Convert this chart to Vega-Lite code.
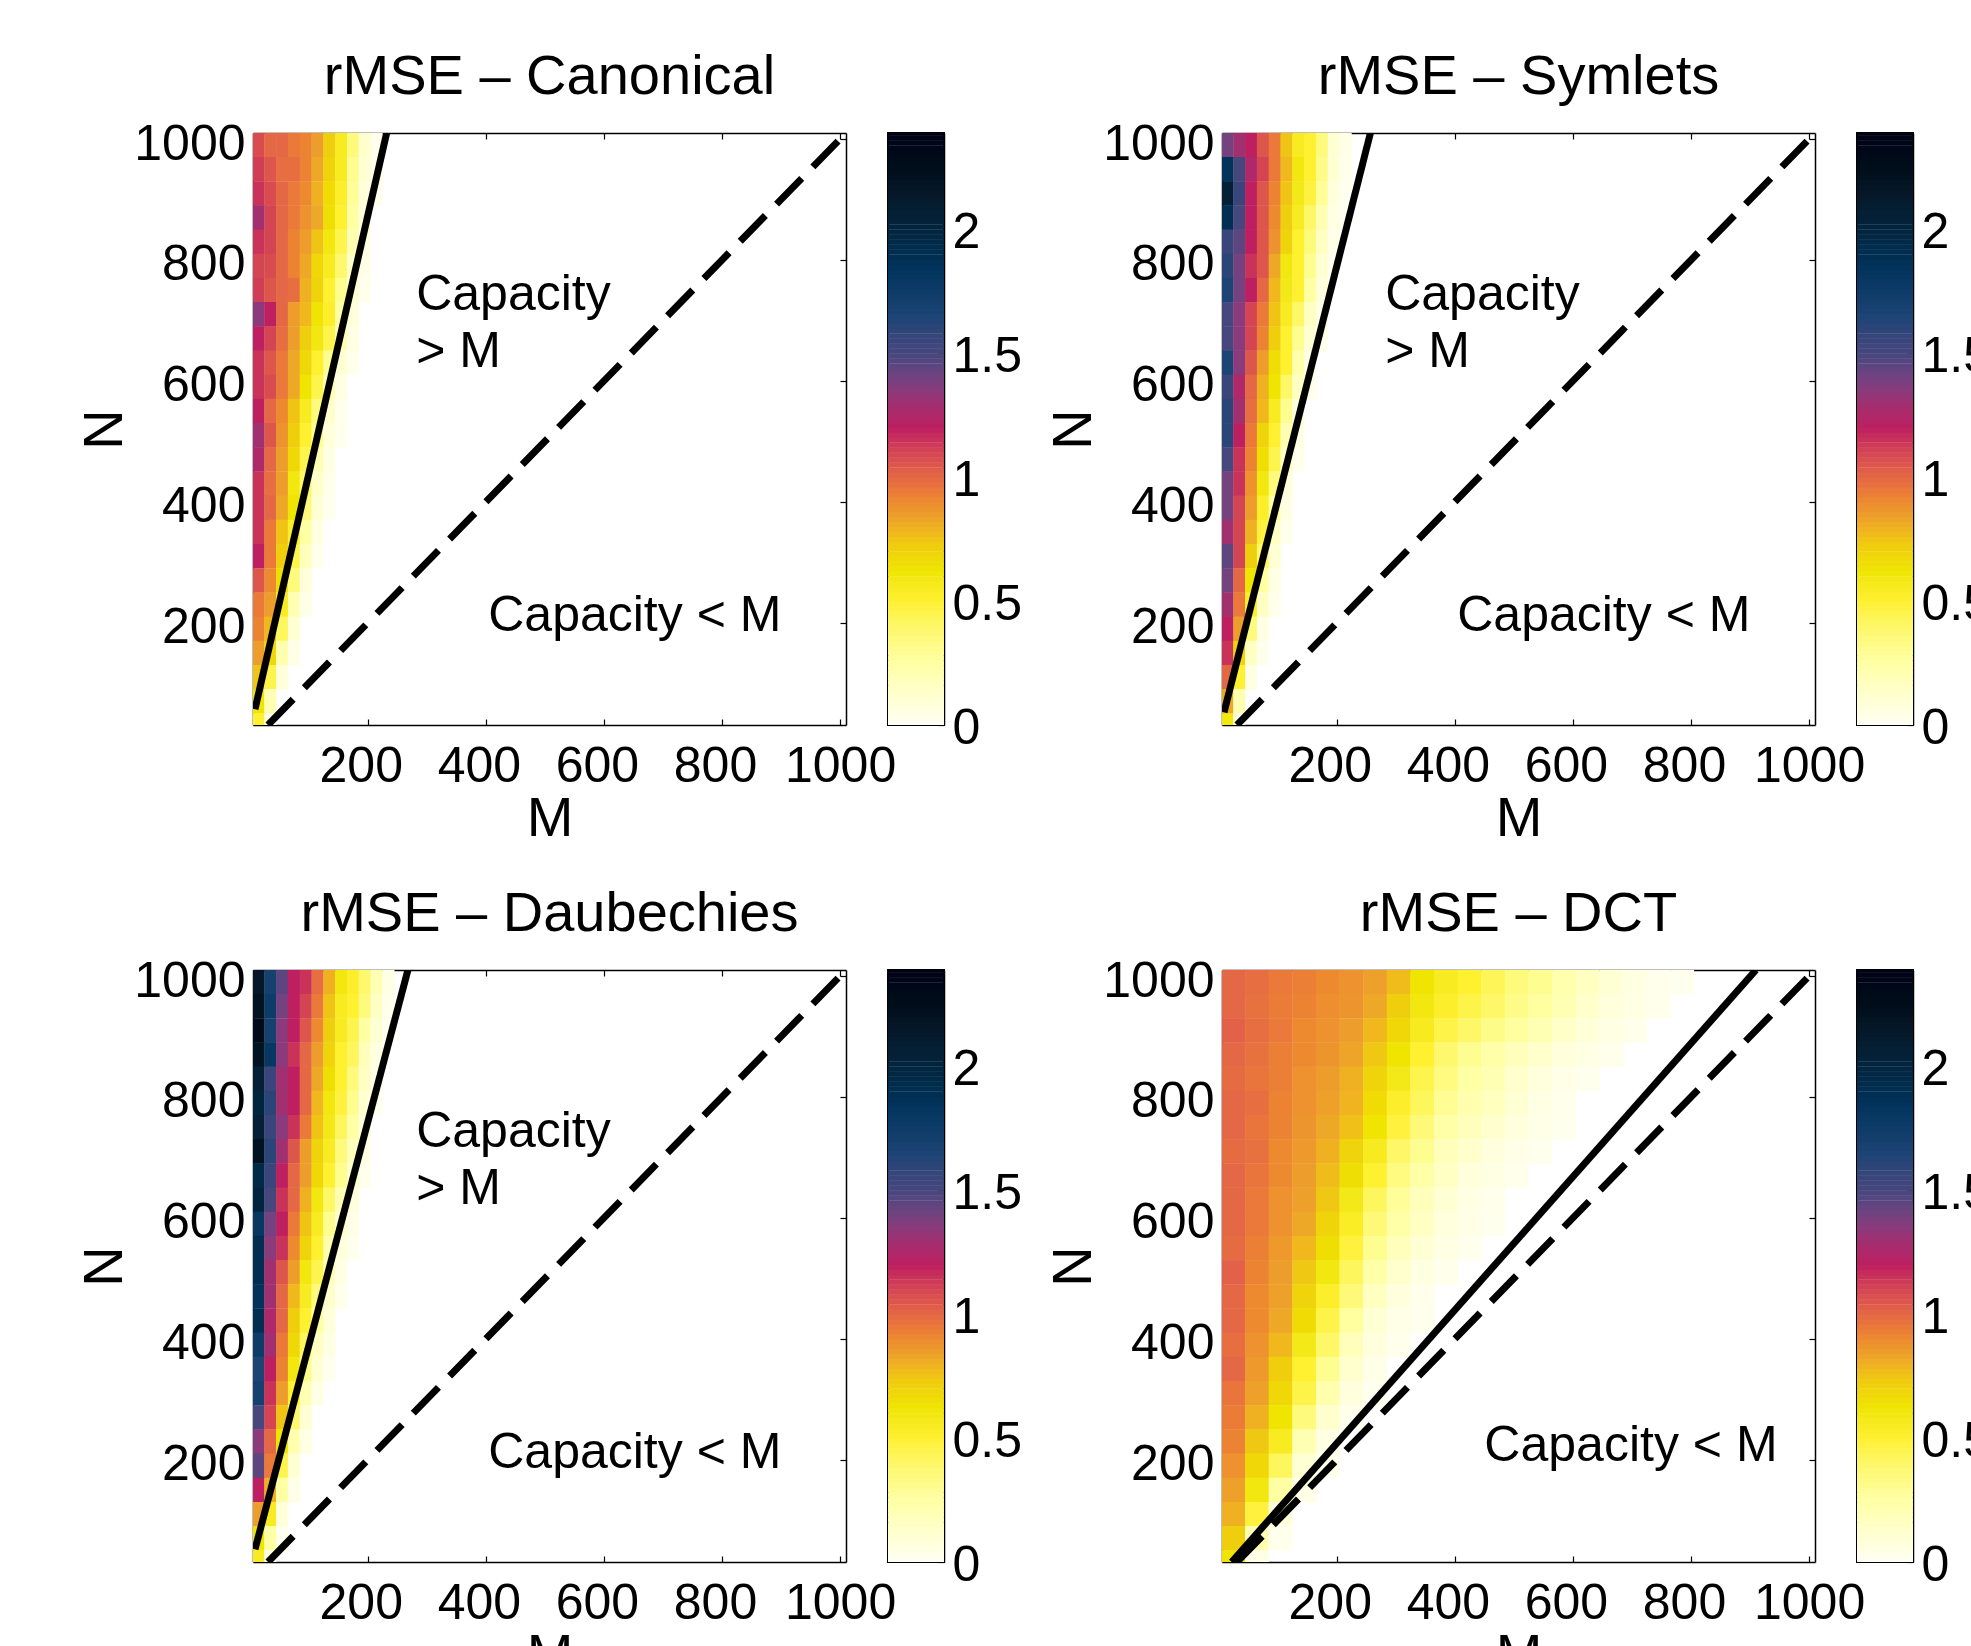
{"$schema":"https://vega.github.io/schema/vega-lite/v6.json","background":"white","padding":{"left":76,"top":49,"right":0,"bottom":0},
"config":{"view":{"stroke":null},"axis":{"grid":false,"domainColor":"black","domainWidth":1.5,"tickColor":"black","tickWidth":1.2,"tickSize":-6,"labelFont":"Liberation Sans","labelFontSize":50,"labelColor":"black","titleFont":"Liberation Sans","titleFontSize":56,"titleFontWeight":"normal","titleColor":"black","zindex":1,"labelBound":false,"labelFlush":false,"labelOverlap":false},"title":{"font":"Liberation Sans","fontSize":56,"fontWeight":"normal","color":"black","offset":13},"text":{"font":"Liberation Sans"}},
"datasets":{
"equal":[{"M":31,"N":31},{"M":1010,"N":1010}],
"canonical":[
{"M":15,"N":990,"v":1.08},{"M":35,"N":990,"v":1.0},{"M":55,"N":990,"v":1.0},{"M":75,"N":990,"v":0.95},{"M":95,"N":990,"v":0.92},{"M":115,"N":990,"v":0.85},{"M":135,"N":990,"v":0.72},{"M":155,"N":990,"v":0.55},{"M":175,"N":990,"v":0.35},{"M":195,"N":990,"v":0.12},{"M":215,"N":990,"v":0.03},
{"M":15,"N":950,"v":1.12},{"M":35,"N":950,"v":1.05},{"M":55,"N":950,"v":0.98},{"M":75,"N":950,"v":0.98},{"M":95,"N":950,"v":0.92},{"M":115,"N":950,"v":0.82},{"M":135,"N":950,"v":0.7},{"M":155,"N":950,"v":0.55},{"M":175,"N":950,"v":0.3},{"M":195,"N":950,"v":0.1},{"M":215,"N":950,"v":0.03},
{"M":15,"N":910,"v":1.15},{"M":35,"N":910,"v":1.08},{"M":55,"N":910,"v":1.0},{"M":75,"N":910,"v":0.95},{"M":95,"N":910,"v":0.9},{"M":115,"N":910,"v":0.8},{"M":135,"N":910,"v":0.66},{"M":155,"N":910,"v":0.52},{"M":175,"N":910,"v":0.28},{"M":195,"N":910,"v":0.08},{"M":215,"N":910,"v":0.02},
{"M":15,"N":870,"v":1.3},{"M":35,"N":870,"v":1.1},{"M":55,"N":870,"v":1.0},{"M":75,"N":870,"v":0.95},{"M":95,"N":870,"v":0.88},{"M":115,"N":870,"v":0.82},{"M":135,"N":870,"v":0.65},{"M":155,"N":870,"v":0.5},{"M":175,"N":870,"v":0.25},{"M":195,"N":870,"v":0.07},
{"M":15,"N":830,"v":1.15},{"M":35,"N":830,"v":1.1},{"M":55,"N":830,"v":1.0},{"M":75,"N":830,"v":0.92},{"M":95,"N":830,"v":0.85},{"M":115,"N":830,"v":0.75},{"M":135,"N":830,"v":0.6},{"M":155,"N":830,"v":0.45},{"M":175,"N":830,"v":0.2},{"M":195,"N":830,"v":0.05},
{"M":15,"N":790,"v":1.1},{"M":35,"N":790,"v":1.08},{"M":55,"N":790,"v":1.0},{"M":75,"N":790,"v":0.92},{"M":95,"N":790,"v":0.82},{"M":115,"N":790,"v":0.68},{"M":135,"N":790,"v":0.55},{"M":155,"N":790,"v":0.38},{"M":175,"N":790,"v":0.14},{"M":195,"N":790,"v":0.04},
{"M":15,"N":750,"v":1.12},{"M":35,"N":750,"v":1.05},{"M":55,"N":750,"v":1.0},{"M":75,"N":750,"v":0.98},{"M":95,"N":750,"v":0.8},{"M":115,"N":750,"v":0.7},{"M":135,"N":750,"v":0.5},{"M":155,"N":750,"v":0.3},{"M":175,"N":750,"v":0.1},{"M":195,"N":750,"v":0.03},
{"M":15,"N":710,"v":1.35},{"M":35,"N":710,"v":1.2},{"M":55,"N":710,"v":1.0},{"M":75,"N":710,"v":0.85},{"M":95,"N":710,"v":0.78},{"M":115,"N":710,"v":0.62},{"M":135,"N":710,"v":0.52},{"M":155,"N":710,"v":0.25},{"M":175,"N":710,"v":0.07},
{"M":15,"N":670,"v":1.2},{"M":35,"N":670,"v":1.1},{"M":55,"N":670,"v":0.98},{"M":75,"N":670,"v":0.85},{"M":95,"N":670,"v":0.72},{"M":115,"N":670,"v":0.6},{"M":135,"N":670,"v":0.45},{"M":155,"N":670,"v":0.2},{"M":175,"N":670,"v":0.05},
{"M":15,"N":630,"v":1.15},{"M":35,"N":630,"v":1.05},{"M":55,"N":630,"v":0.95},{"M":75,"N":630,"v":0.82},{"M":95,"N":630,"v":0.68},{"M":115,"N":630,"v":0.5},{"M":135,"N":630,"v":0.3},{"M":155,"N":630,"v":0.1},{"M":175,"N":630,"v":0.03},
{"M":15,"N":590,"v":1.15},{"M":35,"N":590,"v":1.08},{"M":55,"N":590,"v":0.95},{"M":75,"N":590,"v":0.82},{"M":95,"N":590,"v":0.62},{"M":115,"N":590,"v":0.45},{"M":135,"N":590,"v":0.2},{"M":155,"N":590,"v":0.05},
{"M":15,"N":550,"v":1.2},{"M":35,"N":550,"v":1.0},{"M":55,"N":550,"v":0.9},{"M":75,"N":550,"v":0.75},{"M":95,"N":550,"v":0.55},{"M":115,"N":550,"v":0.35},{"M":135,"N":550,"v":0.12},{"M":155,"N":550,"v":0.03},
{"M":15,"N":510,"v":1.3},{"M":35,"N":510,"v":1.05},{"M":55,"N":510,"v":0.88},{"M":75,"N":510,"v":0.72},{"M":95,"N":510,"v":0.5},{"M":115,"N":510,"v":0.3},{"M":135,"N":510,"v":0.08},{"M":155,"N":510,"v":0.02},
{"M":15,"N":470,"v":1.25},{"M":35,"N":470,"v":1.0},{"M":55,"N":470,"v":0.85},{"M":75,"N":470,"v":0.68},{"M":95,"N":470,"v":0.45},{"M":115,"N":470,"v":0.2},{"M":135,"N":470,"v":0.05},
{"M":15,"N":430,"v":1.15},{"M":35,"N":430,"v":0.98},{"M":55,"N":430,"v":0.85},{"M":75,"N":430,"v":0.6},{"M":95,"N":430,"v":0.4},{"M":115,"N":430,"v":0.14},{"M":135,"N":430,"v":0.03},
{"M":15,"N":390,"v":1.15},{"M":35,"N":390,"v":1.0},{"M":55,"N":390,"v":0.82},{"M":75,"N":390,"v":0.62},{"M":95,"N":390,"v":0.36},{"M":115,"N":390,"v":0.1},{"M":135,"N":390,"v":0.02},
{"M":15,"N":350,"v":1.15},{"M":35,"N":350,"v":0.95},{"M":55,"N":350,"v":0.75},{"M":75,"N":350,"v":0.52},{"M":95,"N":350,"v":0.25},{"M":115,"N":350,"v":0.06},
{"M":15,"N":310,"v":1.2},{"M":35,"N":310,"v":0.95},{"M":55,"N":310,"v":0.72},{"M":75,"N":310,"v":0.45},{"M":95,"N":310,"v":0.18},{"M":115,"N":310,"v":0.03},
{"M":15,"N":270,"v":1.05},{"M":35,"N":270,"v":0.9},{"M":55,"N":270,"v":0.65},{"M":75,"N":270,"v":0.35},{"M":95,"N":270,"v":0.08},
{"M":15,"N":230,"v":0.95},{"M":35,"N":230,"v":0.85},{"M":55,"N":230,"v":0.55},{"M":75,"N":230,"v":0.2},{"M":95,"N":230,"v":0.04},
{"M":15,"N":190,"v":0.92},{"M":35,"N":190,"v":0.78},{"M":55,"N":190,"v":0.42},{"M":75,"N":190,"v":0.1},
{"M":15,"N":150,"v":0.85},{"M":35,"N":150,"v":0.68},{"M":55,"N":150,"v":0.22},{"M":75,"N":150,"v":0.04},
{"M":15,"N":110,"v":0.75},{"M":35,"N":110,"v":0.45},{"M":55,"N":110,"v":0.08},
{"M":15,"N":70,"v":0.62},{"M":35,"N":70,"v":0.2},
{"M":15,"N":30,"v":0.5},{"M":35,"N":30,"v":0.05}],
"symlets":[
{"M":15,"N":990,"v":1.4},{"M":35,"N":990,"v":1.3},{"M":55,"N":990,"v":1.2},{"M":75,"N":990,"v":1.05},{"M":95,"N":990,"v":0.95},{"M":115,"N":990,"v":0.75},{"M":135,"N":990,"v":0.55},{"M":155,"N":990,"v":0.5},{"M":175,"N":990,"v":0.35},{"M":195,"N":990,"v":0.1},{"M":215,"N":990,"v":0.04},
{"M":15,"N":950,"v":1.85},{"M":35,"N":950,"v":1.5},{"M":55,"N":950,"v":1.25},{"M":75,"N":950,"v":1.1},{"M":95,"N":950,"v":0.95},{"M":115,"N":950,"v":0.78},{"M":135,"N":950,"v":0.6},{"M":155,"N":950,"v":0.5},{"M":175,"N":950,"v":0.32},{"M":195,"N":950,"v":0.1},{"M":215,"N":950,"v":0.03},
{"M":15,"N":910,"v":2.05},{"M":35,"N":910,"v":1.55},{"M":55,"N":910,"v":1.2},{"M":75,"N":910,"v":1.05},{"M":95,"N":910,"v":0.92},{"M":115,"N":910,"v":0.75},{"M":135,"N":910,"v":0.58},{"M":155,"N":910,"v":0.48},{"M":175,"N":910,"v":0.28},{"M":195,"N":910,"v":0.07},{"M":215,"N":910,"v":0.02},
{"M":15,"N":870,"v":1.9},{"M":35,"N":870,"v":1.5},{"M":55,"N":870,"v":1.2},{"M":75,"N":870,"v":1.05},{"M":95,"N":870,"v":0.9},{"M":115,"N":870,"v":0.72},{"M":135,"N":870,"v":0.55},{"M":155,"N":870,"v":0.4},{"M":175,"N":870,"v":0.2},{"M":195,"N":870,"v":0.05},{"M":215,"N":870,"v":0.02},
{"M":15,"N":830,"v":1.55},{"M":35,"N":830,"v":1.45},{"M":55,"N":830,"v":1.2},{"M":75,"N":830,"v":1.05},{"M":95,"N":830,"v":0.88},{"M":115,"N":830,"v":0.7},{"M":135,"N":830,"v":0.5},{"M":155,"N":830,"v":0.35},{"M":175,"N":830,"v":0.15},{"M":195,"N":830,"v":0.04},
{"M":15,"N":790,"v":1.6},{"M":35,"N":790,"v":1.4},{"M":55,"N":790,"v":1.15},{"M":75,"N":790,"v":1.05},{"M":95,"N":790,"v":0.82},{"M":115,"N":790,"v":0.6},{"M":135,"N":790,"v":0.5},{"M":155,"N":790,"v":0.3},{"M":175,"N":790,"v":0.1},{"M":195,"N":790,"v":0.02},
{"M":15,"N":750,"v":1.65},{"M":35,"N":750,"v":1.4},{"M":55,"N":750,"v":1.2},{"M":75,"N":750,"v":1.0},{"M":95,"N":750,"v":0.78},{"M":115,"N":750,"v":0.58},{"M":135,"N":750,"v":0.5},{"M":155,"N":750,"v":0.25},{"M":175,"N":750,"v":0.07},
{"M":15,"N":710,"v":1.5},{"M":35,"N":710,"v":1.35},{"M":55,"N":710,"v":1.1},{"M":75,"N":710,"v":0.95},{"M":95,"N":710,"v":0.75},{"M":115,"N":710,"v":0.55},{"M":135,"N":710,"v":0.4},{"M":155,"N":710,"v":0.15},{"M":175,"N":710,"v":0.04},
{"M":15,"N":670,"v":1.5},{"M":35,"N":670,"v":1.35},{"M":55,"N":670,"v":1.1},{"M":75,"N":670,"v":0.92},{"M":95,"N":670,"v":0.72},{"M":115,"N":670,"v":0.5},{"M":135,"N":670,"v":0.3},{"M":155,"N":670,"v":0.1},{"M":175,"N":670,"v":0.02},
{"M":15,"N":630,"v":1.65},{"M":35,"N":630,"v":1.35},{"M":55,"N":630,"v":1.05},{"M":75,"N":630,"v":0.85},{"M":95,"N":630,"v":0.65},{"M":115,"N":630,"v":0.5},{"M":135,"N":630,"v":0.22},{"M":155,"N":630,"v":0.05},
{"M":15,"N":590,"v":1.55},{"M":35,"N":590,"v":1.25},{"M":55,"N":590,"v":1.0},{"M":75,"N":590,"v":0.8},{"M":95,"N":590,"v":0.62},{"M":115,"N":590,"v":0.4},{"M":135,"N":590,"v":0.15},{"M":155,"N":590,"v":0.03},
{"M":15,"N":550,"v":1.6},{"M":35,"N":550,"v":1.3},{"M":55,"N":550,"v":0.98},{"M":75,"N":550,"v":0.78},{"M":95,"N":550,"v":0.55},{"M":115,"N":550,"v":0.3},{"M":135,"N":550,"v":0.08},
{"M":15,"N":510,"v":1.6},{"M":35,"N":510,"v":1.2},{"M":55,"N":510,"v":0.95},{"M":75,"N":510,"v":0.7},{"M":95,"N":510,"v":0.5},{"M":115,"N":510,"v":0.2},{"M":135,"N":510,"v":0.05},
{"M":15,"N":470,"v":1.5},{"M":35,"N":470,"v":1.15},{"M":55,"N":470,"v":0.92},{"M":75,"N":470,"v":0.65},{"M":95,"N":470,"v":0.45},{"M":115,"N":470,"v":0.14},{"M":135,"N":470,"v":0.03},
{"M":15,"N":430,"v":1.4},{"M":35,"N":430,"v":1.15},{"M":55,"N":430,"v":0.88},{"M":75,"N":430,"v":0.6},{"M":95,"N":430,"v":0.35},{"M":115,"N":430,"v":0.08},
{"M":15,"N":390,"v":1.4},{"M":35,"N":390,"v":1.1},{"M":55,"N":390,"v":0.85},{"M":75,"N":390,"v":0.52},{"M":95,"N":390,"v":0.25},{"M":115,"N":390,"v":0.05},
{"M":15,"N":350,"v":1.3},{"M":35,"N":350,"v":1.1},{"M":55,"N":350,"v":0.8},{"M":75,"N":350,"v":0.48},{"M":95,"N":350,"v":0.15},{"M":115,"N":350,"v":0.03},
{"M":15,"N":310,"v":1.45},{"M":35,"N":310,"v":1.1},{"M":55,"N":310,"v":0.72},{"M":75,"N":310,"v":0.4},{"M":95,"N":310,"v":0.1},
{"M":15,"N":270,"v":1.4},{"M":35,"N":270,"v":1.0},{"M":55,"N":270,"v":0.62},{"M":75,"N":270,"v":0.25},{"M":95,"N":270,"v":0.05},
{"M":15,"N":230,"v":1.3},{"M":35,"N":230,"v":0.95},{"M":55,"N":230,"v":0.52},{"M":75,"N":230,"v":0.15},{"M":95,"N":230,"v":0.03},
{"M":15,"N":190,"v":1.2},{"M":35,"N":190,"v":0.85},{"M":55,"N":190,"v":0.35},{"M":75,"N":190,"v":0.06},
{"M":15,"N":150,"v":1.15},{"M":35,"N":150,"v":0.7},{"M":55,"N":150,"v":0.15},{"M":75,"N":150,"v":0.02},
{"M":15,"N":110,"v":1.0},{"M":35,"N":110,"v":0.5},{"M":55,"N":110,"v":0.05},
{"M":15,"N":70,"v":0.82},{"M":35,"N":70,"v":0.2},
{"M":15,"N":30,"v":0.6},{"M":35,"N":30,"v":0.05}],
"daubechies":[
{"M":15,"N":990,"v":2.15},{"M":35,"N":990,"v":1.7},{"M":55,"N":990,"v":1.45},{"M":75,"N":990,"v":1.2},{"M":95,"N":990,"v":1.15},{"M":115,"N":990,"v":0.98},{"M":135,"N":990,"v":0.8},{"M":155,"N":990,"v":0.6},{"M":175,"N":990,"v":0.52},{"M":195,"N":990,"v":0.38},{"M":215,"N":990,"v":0.2},{"M":235,"N":990,"v":0.05},
{"M":15,"N":950,"v":2.2},{"M":35,"N":950,"v":1.75},{"M":55,"N":950,"v":1.4},{"M":75,"N":950,"v":1.2},{"M":95,"N":950,"v":1.1},{"M":115,"N":950,"v":0.95},{"M":135,"N":950,"v":0.75},{"M":155,"N":950,"v":0.55},{"M":175,"N":950,"v":0.5},{"M":195,"N":950,"v":0.35},{"M":215,"N":950,"v":0.15},{"M":235,"N":950,"v":0.03},
{"M":15,"N":910,"v":2.3},{"M":35,"N":910,"v":1.7},{"M":55,"N":910,"v":1.35},{"M":75,"N":910,"v":1.2},{"M":95,"N":910,"v":1.05},{"M":115,"N":910,"v":0.9},{"M":135,"N":910,"v":0.72},{"M":155,"N":910,"v":0.55},{"M":175,"N":910,"v":0.45},{"M":195,"N":910,"v":0.25},{"M":215,"N":910,"v":0.1},{"M":235,"N":910,"v":0.02},
{"M":15,"N":870,"v":2.2},{"M":35,"N":870,"v":1.8},{"M":55,"N":870,"v":1.35},{"M":75,"N":870,"v":1.15},{"M":95,"N":870,"v":1.0},{"M":115,"N":870,"v":0.85},{"M":135,"N":870,"v":0.7},{"M":155,"N":870,"v":0.5},{"M":175,"N":870,"v":0.42},{"M":195,"N":870,"v":0.18},{"M":215,"N":870,"v":0.06},
{"M":15,"N":830,"v":2.05},{"M":35,"N":830,"v":1.55},{"M":55,"N":830,"v":1.3},{"M":75,"N":830,"v":1.2},{"M":95,"N":830,"v":1.0},{"M":115,"N":830,"v":0.82},{"M":135,"N":830,"v":0.65},{"M":155,"N":830,"v":0.5},{"M":175,"N":830,"v":0.35},{"M":195,"N":830,"v":0.15},{"M":215,"N":830,"v":0.04},
{"M":15,"N":790,"v":2.0},{"M":35,"N":790,"v":1.6},{"M":55,"N":790,"v":1.3},{"M":75,"N":790,"v":1.2},{"M":95,"N":790,"v":1.0},{"M":115,"N":790,"v":0.78},{"M":135,"N":790,"v":0.6},{"M":155,"N":790,"v":0.48},{"M":175,"N":790,"v":0.3},{"M":195,"N":790,"v":0.1},{"M":215,"N":790,"v":0.02},
{"M":15,"N":750,"v":2.05},{"M":35,"N":750,"v":1.55},{"M":55,"N":750,"v":1.35},{"M":75,"N":750,"v":1.15},{"M":95,"N":750,"v":0.95},{"M":115,"N":750,"v":0.75},{"M":135,"N":750,"v":0.58},{"M":155,"N":750,"v":0.42},{"M":175,"N":750,"v":0.25},{"M":195,"N":750,"v":0.08},
{"M":15,"N":710,"v":2.2},{"M":35,"N":710,"v":1.6},{"M":55,"N":710,"v":1.3},{"M":75,"N":710,"v":1.05},{"M":95,"N":710,"v":0.85},{"M":115,"N":710,"v":0.7},{"M":135,"N":710,"v":0.55},{"M":155,"N":710,"v":0.35},{"M":175,"N":710,"v":0.18},{"M":195,"N":710,"v":0.05},
{"M":15,"N":670,"v":1.95},{"M":35,"N":670,"v":1.55},{"M":55,"N":670,"v":1.2},{"M":75,"N":670,"v":1.0},{"M":95,"N":670,"v":0.85},{"M":115,"N":670,"v":0.68},{"M":135,"N":670,"v":0.5},{"M":155,"N":670,"v":0.3},{"M":175,"N":670,"v":0.12},{"M":195,"N":670,"v":0.03},
{"M":15,"N":630,"v":2.0},{"M":35,"N":630,"v":1.5},{"M":55,"N":630,"v":1.15},{"M":75,"N":630,"v":1.0},{"M":95,"N":630,"v":0.8},{"M":115,"N":630,"v":0.6},{"M":135,"N":630,"v":0.4},{"M":155,"N":630,"v":0.2},{"M":175,"N":630,"v":0.07},
{"M":15,"N":590,"v":1.8},{"M":35,"N":590,"v":1.4},{"M":55,"N":590,"v":1.2},{"M":75,"N":590,"v":0.95},{"M":95,"N":590,"v":0.75},{"M":115,"N":590,"v":0.55},{"M":135,"N":590,"v":0.3},{"M":155,"N":590,"v":0.12},{"M":175,"N":590,"v":0.04},
{"M":15,"N":550,"v":1.9},{"M":35,"N":550,"v":1.35},{"M":55,"N":550,"v":1.15},{"M":75,"N":550,"v":0.9},{"M":95,"N":550,"v":0.7},{"M":115,"N":550,"v":0.5},{"M":135,"N":550,"v":0.22},{"M":155,"N":550,"v":0.08},{"M":175,"N":550,"v":0.02},
{"M":15,"N":510,"v":1.9},{"M":35,"N":510,"v":1.3},{"M":55,"N":510,"v":1.05},{"M":75,"N":510,"v":0.85},{"M":95,"N":510,"v":0.6},{"M":115,"N":510,"v":0.45},{"M":135,"N":510,"v":0.18},{"M":155,"N":510,"v":0.05},
{"M":15,"N":470,"v":1.85},{"M":35,"N":470,"v":1.3},{"M":55,"N":470,"v":1.0},{"M":75,"N":470,"v":0.78},{"M":95,"N":470,"v":0.55},{"M":115,"N":470,"v":0.35},{"M":135,"N":470,"v":0.12},{"M":155,"N":470,"v":0.03},
{"M":15,"N":430,"v":1.9},{"M":35,"N":430,"v":1.25},{"M":55,"N":430,"v":1.0},{"M":75,"N":430,"v":0.72},{"M":95,"N":430,"v":0.5},{"M":115,"N":430,"v":0.25},{"M":135,"N":430,"v":0.08},
{"M":15,"N":390,"v":1.75},{"M":35,"N":390,"v":1.3},{"M":55,"N":390,"v":0.95},{"M":75,"N":390,"v":0.68},{"M":95,"N":390,"v":0.42},{"M":115,"N":390,"v":0.15},{"M":135,"N":390,"v":0.05},
{"M":15,"N":350,"v":1.65},{"M":35,"N":350,"v":1.2},{"M":55,"N":350,"v":0.92},{"M":75,"N":350,"v":0.6},{"M":95,"N":350,"v":0.32},{"M":115,"N":350,"v":0.1},{"M":135,"N":350,"v":0.02},
{"M":15,"N":310,"v":1.7},{"M":35,"N":310,"v":1.15},{"M":55,"N":310,"v":0.85},{"M":75,"N":310,"v":0.5},{"M":95,"N":310,"v":0.2},{"M":115,"N":310,"v":0.05},
{"M":15,"N":270,"v":1.5},{"M":35,"N":270,"v":1.1},{"M":55,"N":270,"v":0.75},{"M":75,"N":270,"v":0.38},{"M":95,"N":270,"v":0.1},
{"M":15,"N":230,"v":1.35},{"M":35,"N":230,"v":1.0},{"M":55,"N":230,"v":0.62},{"M":75,"N":230,"v":0.22},{"M":95,"N":230,"v":0.05},
{"M":15,"N":190,"v":1.45},{"M":35,"N":190,"v":0.95},{"M":55,"N":190,"v":0.45},{"M":75,"N":190,"v":0.1},
{"M":15,"N":150,"v":1.2},{"M":35,"N":150,"v":0.8},{"M":55,"N":150,"v":0.25},{"M":75,"N":150,"v":0.04},
{"M":15,"N":110,"v":0.85},{"M":35,"N":110,"v":0.55},{"M":55,"N":110,"v":0.08},
{"M":15,"N":70,"v":0.62},{"M":35,"N":70,"v":0.25},{"M":55,"N":70,"v":0.02},
{"M":15,"N":30,"v":0.55},{"M":35,"N":30,"v":0.06}],
"dct":[
{"M":25,"N":990,"v":1.0},{"M":65,"N":990,"v":0.98},{"M":105,"N":990,"v":0.95},{"M":145,"N":990,"v":0.93},{"M":185,"N":990,"v":0.9},{"M":225,"N":990,"v":0.88},{"M":265,"N":990,"v":0.84},{"M":305,"N":990,"v":0.77},{"M":345,"N":990,"v":0.62},{"M":385,"N":990,"v":0.55},{"M":425,"N":990,"v":0.5},{"M":465,"N":990,"v":0.43},{"M":505,"N":990,"v":0.35},{"M":545,"N":990,"v":0.3},{"M":585,"N":990,"v":0.22},{"M":625,"N":990,"v":0.16},{"M":665,"N":990,"v":0.1},{"M":705,"N":990,"v":0.06},{"M":745,"N":990,"v":0.03},{"M":785,"N":990,"v":0.02},
{"M":25,"N":950,"v":1.0},{"M":65,"N":950,"v":0.97},{"M":105,"N":950,"v":0.94},{"M":145,"N":950,"v":0.92},{"M":185,"N":950,"v":0.89},{"M":225,"N":950,"v":0.87},{"M":265,"N":950,"v":0.82},{"M":305,"N":950,"v":0.72},{"M":345,"N":950,"v":0.6},{"M":385,"N":950,"v":0.52},{"M":425,"N":950,"v":0.46},{"M":465,"N":950,"v":0.4},{"M":505,"N":950,"v":0.32},{"M":545,"N":950,"v":0.26},{"M":585,"N":950,"v":0.2},{"M":625,"N":950,"v":0.13},{"M":665,"N":950,"v":0.08},{"M":705,"N":950,"v":0.05},{"M":745,"N":950,"v":0.03},
{"M":25,"N":910,"v":1.02},{"M":65,"N":910,"v":0.98},{"M":105,"N":910,"v":0.95},{"M":145,"N":910,"v":0.9},{"M":185,"N":910,"v":0.88},{"M":225,"N":910,"v":0.85},{"M":265,"N":910,"v":0.78},{"M":305,"N":910,"v":0.68},{"M":345,"N":910,"v":0.56},{"M":385,"N":910,"v":0.46},{"M":425,"N":910,"v":0.4},{"M":465,"N":910,"v":0.32},{"M":505,"N":910,"v":0.26},{"M":545,"N":910,"v":0.2},{"M":585,"N":910,"v":0.14},{"M":625,"N":910,"v":0.09},{"M":665,"N":910,"v":0.05},{"M":705,"N":910,"v":0.03},
{"M":25,"N":870,"v":1.0},{"M":65,"N":870,"v":0.97},{"M":105,"N":870,"v":0.93},{"M":145,"N":870,"v":0.9},{"M":185,"N":870,"v":0.87},{"M":225,"N":870,"v":0.83},{"M":265,"N":870,"v":0.74},{"M":305,"N":870,"v":0.62},{"M":345,"N":870,"v":0.5},{"M":385,"N":870,"v":0.38},{"M":425,"N":870,"v":0.3},{"M":465,"N":870,"v":0.24},{"M":505,"N":870,"v":0.18},{"M":545,"N":870,"v":0.13},{"M":585,"N":870,"v":0.08},{"M":625,"N":870,"v":0.05},{"M":665,"N":870,"v":0.03},
{"M":25,"N":830,"v":0.99},{"M":65,"N":830,"v":0.96},{"M":105,"N":830,"v":0.93},{"M":145,"N":830,"v":0.88},{"M":185,"N":830,"v":0.85},{"M":225,"N":830,"v":0.8},{"M":265,"N":830,"v":0.7},{"M":305,"N":830,"v":0.58},{"M":345,"N":830,"v":0.45},{"M":385,"N":830,"v":0.34},{"M":425,"N":830,"v":0.25},{"M":465,"N":830,"v":0.2},{"M":505,"N":830,"v":0.12},{"M":545,"N":830,"v":0.08},{"M":585,"N":830,"v":0.04},{"M":625,"N":830,"v":0.02},
{"M":25,"N":790,"v":1.0},{"M":65,"N":790,"v":0.98},{"M":105,"N":790,"v":0.92},{"M":145,"N":790,"v":0.88},{"M":185,"N":790,"v":0.84},{"M":225,"N":790,"v":0.79},{"M":265,"N":790,"v":0.66},{"M":305,"N":790,"v":0.52},{"M":345,"N":790,"v":0.42},{"M":385,"N":790,"v":0.29},{"M":425,"N":790,"v":0.22},{"M":465,"N":790,"v":0.17},{"M":505,"N":790,"v":0.1},{"M":545,"N":790,"v":0.05},{"M":585,"N":790,"v":0.03},
{"M":25,"N":750,"v":1.0},{"M":65,"N":750,"v":0.96},{"M":105,"N":750,"v":0.92},{"M":145,"N":750,"v":0.87},{"M":185,"N":750,"v":0.82},{"M":225,"N":750,"v":0.76},{"M":265,"N":750,"v":0.62},{"M":305,"N":750,"v":0.48},{"M":345,"N":750,"v":0.36},{"M":385,"N":750,"v":0.24},{"M":425,"N":750,"v":0.18},{"M":465,"N":750,"v":0.12},{"M":505,"N":750,"v":0.07},{"M":545,"N":750,"v":0.04},{"M":585,"N":750,"v":0.02},
{"M":25,"N":710,"v":0.99},{"M":65,"N":710,"v":0.97},{"M":105,"N":710,"v":0.9},{"M":145,"N":710,"v":0.86},{"M":185,"N":710,"v":0.8},{"M":225,"N":710,"v":0.7},{"M":265,"N":710,"v":0.56},{"M":305,"N":710,"v":0.4},{"M":345,"N":710,"v":0.3},{"M":385,"N":710,"v":0.18},{"M":425,"N":710,"v":0.12},{"M":465,"N":710,"v":0.07},{"M":505,"N":710,"v":0.04},{"M":545,"N":710,"v":0.02},
{"M":25,"N":670,"v":1.0},{"M":65,"N":670,"v":0.96},{"M":105,"N":670,"v":0.9},{"M":145,"N":670,"v":0.85},{"M":185,"N":670,"v":0.77},{"M":225,"N":670,"v":0.65},{"M":265,"N":670,"v":0.5},{"M":305,"N":670,"v":0.34},{"M":345,"N":670,"v":0.24},{"M":385,"N":670,"v":0.15},{"M":425,"N":670,"v":0.08},{"M":465,"N":670,"v":0.05},{"M":505,"N":670,"v":0.03},
{"M":25,"N":630,"v":1.0},{"M":65,"N":630,"v":0.95},{"M":105,"N":630,"v":0.88},{"M":145,"N":630,"v":0.84},{"M":185,"N":630,"v":0.74},{"M":225,"N":630,"v":0.58},{"M":265,"N":630,"v":0.42},{"M":305,"N":630,"v":0.28},{"M":345,"N":630,"v":0.18},{"M":385,"N":630,"v":0.1},{"M":425,"N":630,"v":0.05},{"M":465,"N":630,"v":0.03},
{"M":25,"N":590,"v":1.0},{"M":65,"N":590,"v":0.95},{"M":105,"N":590,"v":0.88},{"M":145,"N":590,"v":0.82},{"M":185,"N":590,"v":0.7},{"M":225,"N":590,"v":0.54},{"M":265,"N":590,"v":0.36},{"M":305,"N":590,"v":0.24},{"M":345,"N":590,"v":0.15},{"M":385,"N":590,"v":0.07},{"M":425,"N":590,"v":0.04},{"M":465,"N":590,"v":0.02},
{"M":25,"N":550,"v":0.99},{"M":65,"N":550,"v":0.93},{"M":105,"N":550,"v":0.86},{"M":145,"N":550,"v":0.78},{"M":185,"N":550,"v":0.65},{"M":225,"N":550,"v":0.48},{"M":265,"N":550,"v":0.3},{"M":305,"N":550,"v":0.18},{"M":345,"N":550,"v":0.1},{"M":385,"N":550,"v":0.05},{"M":425,"N":550,"v":0.02},
{"M":25,"N":510,"v":1.02},{"M":65,"N":510,"v":0.92},{"M":105,"N":510,"v":0.85},{"M":145,"N":510,"v":0.74},{"M":185,"N":510,"v":0.6},{"M":225,"N":510,"v":0.42},{"M":265,"N":510,"v":0.24},{"M":305,"N":510,"v":0.12},{"M":345,"N":510,"v":0.06},{"M":385,"N":510,"v":0.03},
{"M":25,"N":470,"v":1.0},{"M":65,"N":470,"v":0.9},{"M":105,"N":470,"v":0.84},{"M":145,"N":470,"v":0.7},{"M":185,"N":470,"v":0.52},{"M":225,"N":470,"v":0.36},{"M":265,"N":470,"v":0.16},{"M":305,"N":470,"v":0.07},{"M":345,"N":470,"v":0.03},
{"M":25,"N":430,"v":1.0},{"M":65,"N":430,"v":0.9},{"M":105,"N":430,"v":0.82},{"M":145,"N":430,"v":0.66},{"M":185,"N":430,"v":0.46},{"M":225,"N":430,"v":0.26},{"M":265,"N":430,"v":0.1},{"M":305,"N":430,"v":0.04},{"M":345,"N":430,"v":0.02},
{"M":25,"N":390,"v":0.98},{"M":65,"N":390,"v":0.88},{"M":105,"N":390,"v":0.78},{"M":145,"N":390,"v":0.58},{"M":185,"N":390,"v":0.4},{"M":225,"N":390,"v":0.18},{"M":265,"N":390,"v":0.07},{"M":305,"N":390,"v":0.03},
{"M":25,"N":350,"v":1.0},{"M":65,"N":350,"v":0.86},{"M":105,"N":350,"v":0.72},{"M":145,"N":350,"v":0.5},{"M":185,"N":350,"v":0.3},{"M":225,"N":350,"v":0.12},{"M":265,"N":350,"v":0.04},
{"M":25,"N":310,"v":0.96},{"M":65,"N":310,"v":0.84},{"M":105,"N":310,"v":0.68},{"M":145,"N":310,"v":0.46},{"M":185,"N":310,"v":0.22},{"M":225,"N":310,"v":0.07},{"M":265,"N":310,"v":0.02},
{"M":25,"N":270,"v":0.94},{"M":65,"N":270,"v":0.8},{"M":105,"N":270,"v":0.62},{"M":145,"N":270,"v":0.35},{"M":185,"N":270,"v":0.12},{"M":225,"N":270,"v":0.03},
{"M":25,"N":230,"v":0.92},{"M":65,"N":230,"v":0.74},{"M":105,"N":230,"v":0.55},{"M":145,"N":230,"v":0.2},{"M":185,"N":230,"v":0.05},
{"M":25,"N":190,"v":0.88},{"M":65,"N":190,"v":0.68},{"M":105,"N":190,"v":0.42},{"M":145,"N":190,"v":0.1},{"M":185,"N":190,"v":0.02},
{"M":25,"N":150,"v":0.84},{"M":65,"N":150,"v":0.6},{"M":105,"N":150,"v":0.25},{"M":145,"N":150,"v":0.04},
{"M":25,"N":110,"v":0.8},{"M":65,"N":110,"v":0.48},{"M":105,"N":110,"v":0.08},
{"M":25,"N":70,"v":0.72},{"M":65,"N":70,"v":0.2},{"M":105,"N":70,"v":0.02},
{"M":25,"N":30,"v":0.62},{"M":65,"N":30,"v":0.04}],
"cbar":[{"v":0.01},{"v":0.03},{"v":0.05},{"v":0.07},{"v":0.09},{"v":0.11},{"v":0.13},{"v":0.15},{"v":0.17},{"v":0.19},{"v":0.21},{"v":0.23},{"v":0.25},{"v":0.27},{"v":0.29},{"v":0.31},{"v":0.33},{"v":0.35},{"v":0.37},{"v":0.39},{"v":0.41},{"v":0.43},{"v":0.45},{"v":0.47},{"v":0.49},{"v":0.51},{"v":0.53},{"v":0.55},{"v":0.57},{"v":0.59},{"v":0.61},{"v":0.63},{"v":0.65},{"v":0.67},{"v":0.69},{"v":0.71},{"v":0.73},{"v":0.75},{"v":0.77},{"v":0.79},{"v":0.81},{"v":0.83},{"v":0.85},{"v":0.87},{"v":0.89},{"v":0.91},{"v":0.93},{"v":0.95},{"v":0.97},{"v":0.99},{"v":1.01},{"v":1.03},{"v":1.05},{"v":1.07},{"v":1.09},{"v":1.11},{"v":1.13},{"v":1.15},{"v":1.17},{"v":1.19},{"v":1.21},{"v":1.23},{"v":1.25},{"v":1.27},{"v":1.29},{"v":1.31},{"v":1.33},{"v":1.35},{"v":1.37},{"v":1.39},{"v":1.41},{"v":1.43},{"v":1.45},{"v":1.47},{"v":1.49},{"v":1.51},{"v":1.53},{"v":1.55},{"v":1.57},{"v":1.59},{"v":1.61},{"v":1.63},{"v":1.65},{"v":1.67},{"v":1.69},{"v":1.71},{"v":1.73},{"v":1.75},{"v":1.77},{"v":1.79},{"v":1.81},{"v":1.83},{"v":1.85},{"v":1.87},{"v":1.89},{"v":1.91},{"v":1.93},{"v":1.95},{"v":1.97},{"v":1.99},{"v":2.01},{"v":2.03},{"v":2.05},{"v":2.07},{"v":2.09},{"v":2.11},{"v":2.13},{"v":2.15},{"v":2.17},{"v":2.19},{"v":2.21},{"v":2.23},{"v":2.25},{"v":2.27},{"v":2.29},{"v":2.31},{"v":2.33},{"v":2.35},{"v":2.37},{"v":2.39}]
},
"columns":5,"bounds":"flush","spacing":{"row":245,"column":42},
"concat":[
{"width":593,"height":592,"title":"rMSE – Canonical","resolve":{"axis":{"x":"independent","y":"independent"}},"layer":[
{"data":{"name":"canonical"},"mark":{"type":"rect","width":12.2,"height":24.6,"clip":true},"encoding":{"x":{"field":"M","type":"quantitative","scale":{"domain":[5.6,1010],"nice":false,"zero":false},"axis":{"orient":"bottom","values":[200,400,600,800,1000],"format":"d","title":"M","labelPadding":22,"titlePadding":0,"labelOffset":{"condition":{"test":"datum.value==1000","value":0},"value":-7}}},"y":{"field":"N","type":"quantitative","scale":{"domain":[31,1010],"nice":false,"zero":false},"axis":{"orient":"left","values":[200,400,600,800,1000],"format":"d","title":"N","labelPadding":14,"titlePadding":0,"labelOffset":5}},"color":{"field":"v","type":"quantitative","legend":null,"scale":{"domain":[0,0.26,0.5,0.62,0.73,0.835,0.92,1.0,1.115,1.2,1.3,1.41,1.5,1.65,1.82,2.0,2.23,2.39],"range":["#fffff4","#ffffa0","#fff030","#efe500","#efcc10","#eda22a","#ec8333","#e46845","#d14055","#bd1f60","#a03070","#6f437f","#46477d","#1c4474","#033660","#02253f","#010f1c","#000000"]}}}},
{"data":{"name":"equal"},"mark":{"type":"line","color":"black","strokeWidth":7,"strokeDash":[36,16],"clip":true},"encoding":{"x":{"field":"M","type":"quantitative","scale":{"domain":[5.6,1010],"nice":false,"zero":false},"axis":{"orient":"top","values":[200,400,600,800,1000],"labels":false,"title":null}},"y":{"field":"N","type":"quantitative","scale":{"domain":[31,1010],"nice":false,"zero":false},"axis":{"orient":"right","values":[200,400,600,800,1000],"labels":false,"title":null}}}},
{"data":{"values":[{"M":9,"N":57},{"M":232,"N":1010}]},"mark":{"type":"line","color":"black","strokeWidth":7,"clip":true},"encoding":{"x":{"field":"M","type":"quantitative","scale":{"domain":[5.6,1010],"nice":false,"zero":false},"axis":null},"y":{"field":"N","type":"quantitative","scale":{"domain":[31,1010],"nice":false,"zero":false},"axis":null}}},
{"data":{"values":[{"M":282,"N":742,"t":"Capacity"},{"M":282,"N":648,"t":"> M"},{"M":404,"N":211,"t":"Capacity < M"}]},"mark":{"type":"text","align":"left","baseline":"middle","fontSize":50,"color":"black"},"encoding":{"x":{"field":"M","type":"quantitative","scale":{"domain":[5.6,1010],"nice":false,"zero":false},"axis":null},"y":{"field":"N","type":"quantitative","scale":{"domain":[31,1010],"nice":false,"zero":false},"axis":null},"text":{"field":"t"}}}
]},
{"width":56,"height":592,"view":{"stroke":"black","strokeWidth":2},"data":{"name":"cbar"},"mark":{"type":"rect","height":5.4,"clip":true},"encoding":{"y":{"field":"v","type":"quantitative","scale":{"domain":[0,2.39],"nice":false},"axis":{"orient":"right","values":[0,0.5,1,1.5,2],"format":"~g","title":null,"labelPadding":14,"labelOffset":3}},"color":{"field":"v","type":"quantitative","legend":null,"scale":{"domain":[0,0.26,0.5,0.62,0.73,0.835,0.92,1.0,1.115,1.2,1.3,1.41,1.5,1.65,1.82,2.0,2.23,2.39],"range":["#fffff4","#ffffa0","#fff030","#efe500","#efcc10","#eda22a","#ec8333","#e46845","#d14055","#bd1f60","#a03070","#6f437f","#46477d","#1c4474","#033660","#02253f","#010f1c","#000000"]}}}},
{"width":194,"height":592,"data":{"name":"cbar"},"mark":{"type":"rect","opacity":0},"encoding":{"y":{"field":"v","type":"quantitative","axis":null}}},
{"width":593,"height":592,"title":"rMSE – Symlets","resolve":{"axis":{"x":"independent","y":"independent"}},"layer":[
{"data":{"name":"symlets"},"mark":{"type":"rect","width":12.2,"height":24.6,"clip":true},"encoding":{"x":{"field":"M","type":"quantitative","scale":{"domain":[5.6,1010],"nice":false,"zero":false},"axis":{"orient":"bottom","values":[200,400,600,800,1000],"format":"d","title":"M","labelPadding":22,"titlePadding":0,"labelOffset":{"condition":{"test":"datum.value==1000","value":0},"value":-7}}},"y":{"field":"N","type":"quantitative","scale":{"domain":[31,1010],"nice":false,"zero":false},"axis":{"orient":"left","values":[200,400,600,800,1000],"format":"d","title":"N","labelPadding":14,"titlePadding":0,"labelOffset":5}},"color":{"field":"v","type":"quantitative","legend":null,"scale":{"domain":[0,0.26,0.5,0.62,0.73,0.835,0.92,1.0,1.115,1.2,1.3,1.41,1.5,1.65,1.82,2.0,2.23,2.39],"range":["#fffff4","#ffffa0","#fff030","#efe500","#efcc10","#eda22a","#ec8333","#e46845","#d14055","#bd1f60","#a03070","#6f437f","#46477d","#1c4474","#033660","#02253f","#010f1c","#000000"]}}}},
{"data":{"name":"equal"},"mark":{"type":"line","color":"black","strokeWidth":7,"strokeDash":[36,16],"clip":true},"encoding":{"x":{"field":"M","type":"quantitative","scale":{"domain":[5.6,1010],"nice":false,"zero":false},"axis":{"orient":"top","values":[200,400,600,800,1000],"labels":false,"title":null}},"y":{"field":"N","type":"quantitative","scale":{"domain":[31,1010],"nice":false,"zero":false},"axis":{"orient":"right","values":[200,400,600,800,1000],"labels":false,"title":null}}}},
{"data":{"values":[{"M":9,"N":52},{"M":257,"N":1010}]},"mark":{"type":"line","color":"black","strokeWidth":7,"clip":true},"encoding":{"x":{"field":"M","type":"quantitative","scale":{"domain":[5.6,1010],"nice":false,"zero":false},"axis":null},"y":{"field":"N","type":"quantitative","scale":{"domain":[31,1010],"nice":false,"zero":false},"axis":null}}},
{"data":{"values":[{"M":282,"N":742,"t":"Capacity"},{"M":282,"N":648,"t":"> M"},{"M":404,"N":211,"t":"Capacity < M"}]},"mark":{"type":"text","align":"left","baseline":"middle","fontSize":50,"color":"black"},"encoding":{"x":{"field":"M","type":"quantitative","scale":{"domain":[5.6,1010],"nice":false,"zero":false},"axis":null},"y":{"field":"N","type":"quantitative","scale":{"domain":[31,1010],"nice":false,"zero":false},"axis":null},"text":{"field":"t"}}}
]},
{"width":56,"height":592,"view":{"stroke":"black","strokeWidth":2},"data":{"name":"cbar"},"mark":{"type":"rect","height":5.4,"clip":true},"encoding":{"y":{"field":"v","type":"quantitative","scale":{"domain":[0,2.39],"nice":false},"axis":{"orient":"right","values":[0,0.5,1,1.5,2],"format":"~g","title":null,"labelPadding":14,"labelOffset":3}},"color":{"field":"v","type":"quantitative","legend":null,"scale":{"domain":[0,0.26,0.5,0.62,0.73,0.835,0.92,1.0,1.115,1.2,1.3,1.41,1.5,1.65,1.82,2.0,2.23,2.39],"range":["#fffff4","#ffffa0","#fff030","#efe500","#efcc10","#eda22a","#ec8333","#e46845","#d14055","#bd1f60","#a03070","#6f437f","#46477d","#1c4474","#033660","#02253f","#010f1c","#000000"]}}}},
{"width":593,"height":592,"title":"rMSE – Daubechies","resolve":{"axis":{"x":"independent","y":"independent"}},"layer":[
{"data":{"name":"daubechies"},"mark":{"type":"rect","width":12.2,"height":24.6,"clip":true},"encoding":{"x":{"field":"M","type":"quantitative","scale":{"domain":[5.6,1010],"nice":false,"zero":false},"axis":{"orient":"bottom","values":[200,400,600,800,1000],"format":"d","title":"M","labelPadding":22,"titlePadding":0,"labelOffset":{"condition":{"test":"datum.value==1000","value":0},"value":-7}}},"y":{"field":"N","type":"quantitative","scale":{"domain":[31,1010],"nice":false,"zero":false},"axis":{"orient":"left","values":[200,400,600,800,1000],"format":"d","title":"N","labelPadding":14,"titlePadding":0,"labelOffset":5}},"color":{"field":"v","type":"quantitative","legend":null,"scale":{"domain":[0,0.26,0.5,0.62,0.73,0.835,0.92,1.0,1.115,1.2,1.3,1.41,1.5,1.65,1.82,2.0,2.23,2.39],"range":["#fffff4","#ffffa0","#fff030","#efe500","#efcc10","#eda22a","#ec8333","#e46845","#d14055","#bd1f60","#a03070","#6f437f","#46477d","#1c4474","#033660","#02253f","#010f1c","#000000"]}}}},
{"data":{"name":"equal"},"mark":{"type":"line","color":"black","strokeWidth":7,"strokeDash":[36,16],"clip":true},"encoding":{"x":{"field":"M","type":"quantitative","scale":{"domain":[5.6,1010],"nice":false,"zero":false},"axis":{"orient":"top","values":[200,400,600,800,1000],"labels":false,"title":null}},"y":{"field":"N","type":"quantitative","scale":{"domain":[31,1010],"nice":false,"zero":false},"axis":{"orient":"right","values":[200,400,600,800,1000],"labels":false,"title":null}}}},
{"data":{"values":[{"M":9,"N":52},{"M":268,"N":1010}]},"mark":{"type":"line","color":"black","strokeWidth":7,"clip":true},"encoding":{"x":{"field":"M","type":"quantitative","scale":{"domain":[5.6,1010],"nice":false,"zero":false},"axis":null},"y":{"field":"N","type":"quantitative","scale":{"domain":[31,1010],"nice":false,"zero":false},"axis":null}}},
{"data":{"values":[{"M":282,"N":742,"t":"Capacity"},{"M":282,"N":648,"t":"> M"},{"M":404,"N":211,"t":"Capacity < M"}]},"mark":{"type":"text","align":"left","baseline":"middle","fontSize":50,"color":"black"},"encoding":{"x":{"field":"M","type":"quantitative","scale":{"domain":[5.6,1010],"nice":false,"zero":false},"axis":null},"y":{"field":"N","type":"quantitative","scale":{"domain":[31,1010],"nice":false,"zero":false},"axis":null},"text":{"field":"t"}}}
]},
{"width":56,"height":592,"view":{"stroke":"black","strokeWidth":2},"data":{"name":"cbar"},"mark":{"type":"rect","height":5.4,"clip":true},"encoding":{"y":{"field":"v","type":"quantitative","scale":{"domain":[0,2.39],"nice":false},"axis":{"orient":"right","values":[0,0.5,1,1.5,2],"format":"~g","title":null,"labelPadding":14,"labelOffset":3}},"color":{"field":"v","type":"quantitative","legend":null,"scale":{"domain":[0,0.26,0.5,0.62,0.73,0.835,0.92,1.0,1.115,1.2,1.3,1.41,1.5,1.65,1.82,2.0,2.23,2.39],"range":["#fffff4","#ffffa0","#fff030","#efe500","#efcc10","#eda22a","#ec8333","#e46845","#d14055","#bd1f60","#a03070","#6f437f","#46477d","#1c4474","#033660","#02253f","#010f1c","#000000"]}}}},
{"width":194,"height":592,"data":{"name":"cbar"},"mark":{"type":"rect","opacity":0},"encoding":{"y":{"field":"v","type":"quantitative","axis":null}}},
{"width":593,"height":592,"title":"rMSE – DCT","resolve":{"axis":{"x":"independent","y":"independent"}},"layer":[
{"data":{"name":"dct"},"mark":{"type":"rect","width":24,"height":24.6,"clip":true},"encoding":{"x":{"field":"M","type":"quantitative","scale":{"domain":[5.6,1010],"nice":false,"zero":false},"axis":{"orient":"bottom","values":[200,400,600,800,1000],"format":"d","title":"M","labelPadding":22,"titlePadding":0,"labelOffset":{"condition":{"test":"datum.value==1000","value":0},"value":-7}}},"y":{"field":"N","type":"quantitative","scale":{"domain":[31,1010],"nice":false,"zero":false},"axis":{"orient":"left","values":[200,400,600,800,1000],"format":"d","title":"N","labelPadding":14,"titlePadding":0,"labelOffset":5}},"color":{"field":"v","type":"quantitative","legend":null,"scale":{"domain":[0,0.26,0.5,0.62,0.73,0.835,0.92,1.0,1.115,1.2,1.3,1.41,1.5,1.65,1.82,2.0,2.23,2.39],"range":["#fffff4","#ffffa0","#fff030","#efe500","#efcc10","#eda22a","#ec8333","#e46845","#d14055","#bd1f60","#a03070","#6f437f","#46477d","#1c4474","#033660","#02253f","#010f1c","#000000"]}}}},
{"data":{"name":"equal"},"mark":{"type":"line","color":"black","strokeWidth":7,"strokeDash":[36,16],"clip":true},"encoding":{"x":{"field":"M","type":"quantitative","scale":{"domain":[5.6,1010],"nice":false,"zero":false},"axis":{"orient":"top","values":[200,400,600,800,1000],"labels":false,"title":null}},"y":{"field":"N","type":"quantitative","scale":{"domain":[31,1010],"nice":false,"zero":false},"axis":{"orient":"right","values":[200,400,600,800,1000],"labels":false,"title":null}}}},
{"data":{"values":[{"M":22,"N":31},{"M":910,"N":1010}]},"mark":{"type":"line","color":"black","strokeWidth":7,"clip":true},"encoding":{"x":{"field":"M","type":"quantitative","scale":{"domain":[5.6,1010],"nice":false,"zero":false},"axis":null},"y":{"field":"N","type":"quantitative","scale":{"domain":[31,1010],"nice":false,"zero":false},"axis":null}}},
{"data":{"values":[{"M":450,"N":223,"t":"Capacity < M"}]},"mark":{"type":"text","align":"left","baseline":"middle","fontSize":50,"color":"black"},"encoding":{"x":{"field":"M","type":"quantitative","scale":{"domain":[5.6,1010],"nice":false,"zero":false},"axis":null},"y":{"field":"N","type":"quantitative","scale":{"domain":[31,1010],"nice":false,"zero":false},"axis":null},"text":{"field":"t"}}}
]},
{"width":56,"height":592,"view":{"stroke":"black","strokeWidth":2},"data":{"name":"cbar"},"mark":{"type":"rect","height":5.4,"clip":true},"encoding":{"y":{"field":"v","type":"quantitative","scale":{"domain":[0,2.39],"nice":false},"axis":{"orient":"right","values":[0,0.5,1,1.5,2],"format":"~g","title":null,"labelPadding":14,"labelOffset":3}},"color":{"field":"v","type":"quantitative","legend":null,"scale":{"domain":[0,0.26,0.5,0.62,0.73,0.835,0.92,1.0,1.115,1.2,1.3,1.41,1.5,1.65,1.82,2.0,2.23,2.39],"range":["#fffff4","#ffffa0","#fff030","#efe500","#efcc10","#eda22a","#ec8333","#e46845","#d14055","#bd1f60","#a03070","#6f437f","#46477d","#1c4474","#033660","#02253f","#010f1c","#000000"]}}}}
]}
